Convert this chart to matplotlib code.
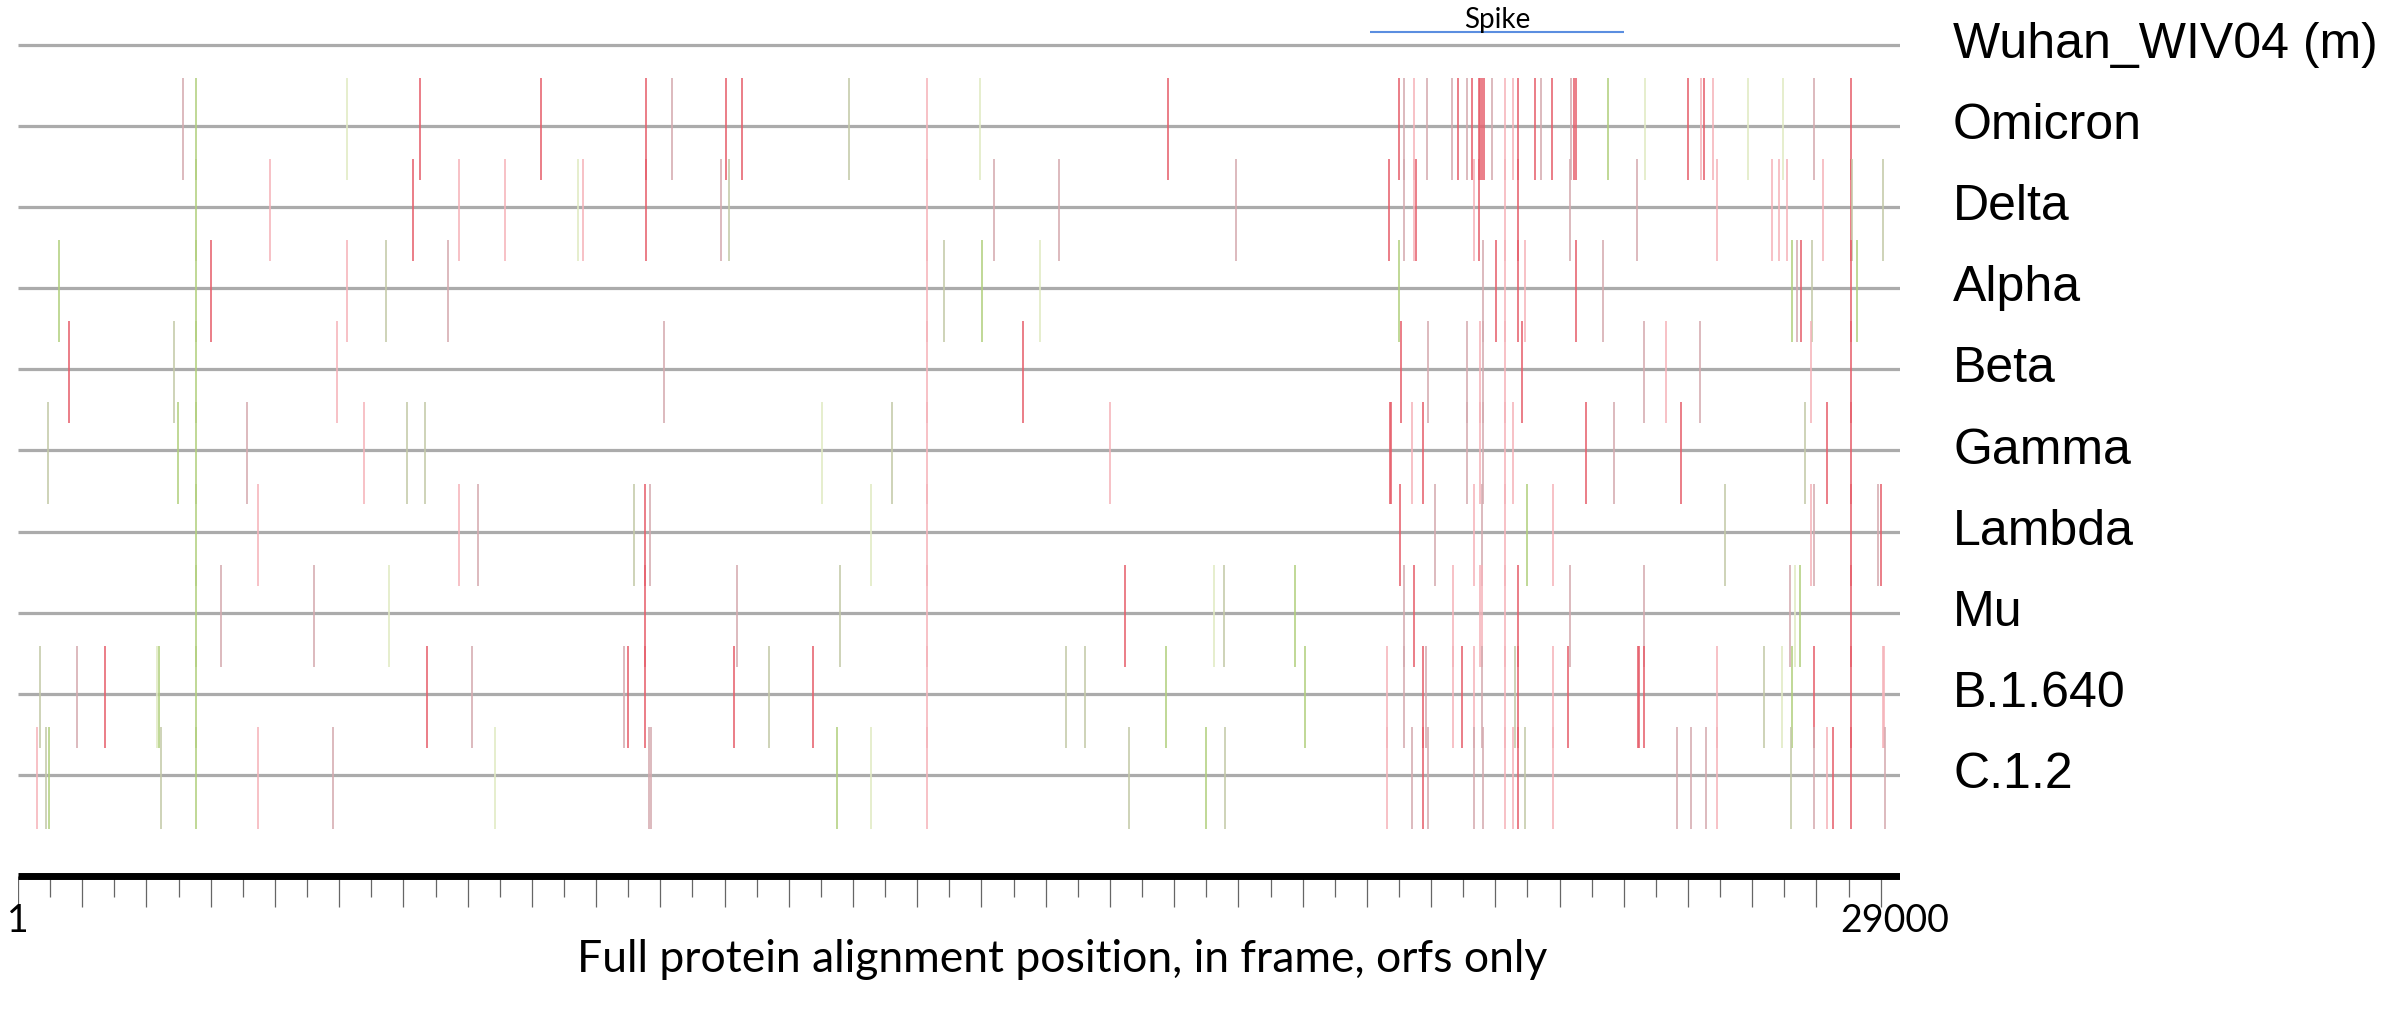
import matplotlib
matplotlib.use("Agg")
import matplotlib.pyplot as plt

# alignment length shown on the ruler and the spike region
ALIGN_LEN = 29300
spike_start, spike_end = 21050, 25000

variants = ["Wuhan_WIV04 (m)", "Omicron", "Delta", "Alpha", "Beta",
            "Gamma", "Lambda", "Mu", "B.1.640", "C.1.2"]

# (alignment position, kind) - R red, P pink, M mauve, G green, O olive, L pale green
wuhan = []
omicron = [(2567, "M"), (2773, "G"), (5123, "L"), (6252, "R"), (8137, "R"), (9770, "R"),
           (10181, "M"), (11026, "R"), (11278, "R"), (12937, "O"), (14150, "P"), (14977, "L"),
           (17907, "R"), (21494, "R"), (21578, "M"), (21726, "P"), (21933, "M"), (22327, "M"),
           (22423, "R"), (22559, "M"), (22637, "R"), (22740, "R"), (22766, "R"), (22792, "R"),
           (22817, "R"), (22946, "M"), (23153, "P"), (23276, "P"), (23359, "R"), (23611, "R"),
           (23708, "M"), (23889, "R"), (24179, "M"), (24224, "R"), (24263, "R"), (24760, "G"),
           (25335, "L"), (25993, "R"), (26200, "P"), (26251, "R"), (26387, "P"), (26929, "L"),
           (27471, "L"), (27962, "M"), (28530, "R")]
delta = [(2773, "G"), (3922, "P"), (6143, "R"), (6859, "P"), (7589, "P"), (8725, "L"),
         (8796, "P"), (9770, "R"), (10942, "M"), (11065, "O"), (14150, "P"), (15196, "M"),
         (16203, "M"), (18960, "M"), (21352, "R"), (21578, "M"), (21726, "P"), (21765, "R"),
         (22662, "P"), (22740, "R"), (23153, "P"), (23359, "R"), (24160, "M"), (25212, "M"),
         (26445, "P"), (27303, "P"), (27413, "P"), (27542, "P"), (28104, "P"), (28530, "R"),
         (28550, "O"), (29034, "O")]
alpha = [(643, "G"), (2773, "G"), (2999, "R"), (5123, "P"), (5729, "O"), (6691, "M"),
         (14150, "P"), (14415, "O"), (15015, "G"), (15912, "L"), (21494, "G"), (22811, "M"),
         (23017, "R"), (23153, "P"), (23359, "R"), (23469, "P"), (24263, "R"), (24676, "M"),
         (27626, "G"), (27704, "M"), (27762, "R"), (27923, "O"), (28530, "R"), (28627, "G")]
beta = [(798, "R"), (2424, "O"), (2773, "G"), (4961, "P"), (10058, "M"), (14150, "P"),
        (15654, "R"), (21539, "R"), (21952, "M"), (22559, "M"), (22766, "P"), (22811, "M"),
        (23153, "P"), (23418, "R"), (25315, "M"), (25657, "P"), (26187, "M"), (27917, "P"),
        (28530, "R")]
gamma = [(462, "O"), (2489, "G"), (2773, "G"), (3567, "M"), (5387, "P"), (6052, "O"),
         (6343, "O"), (12517, "L"), (13602, "O"), (14150, "P"), (16997, "P"), (21358, "R"),
         (21370, "R"), (21707, "P"), (21868, "R"), (22559, "M"), (22766, "P"), (22811, "M"),
         (23153, "P"), (23276, "P"), (24405, "R"), (24844, "M"), (25896, "R"), (27820, "O"),
         (28156, "R"), (28530, "R")]
lambda_ = [(2773, "G"), (3741, "P"), (6859, "P"), (7162, "M"), (9593, "O"), (9768, "R"),
           (9839, "M"), (13279, "L"), (14150, "P"), (21520, "R"), (22062, "M"), (22662, "P"),
           (22785, "M"), (23153, "P"), (23489, "G"), (23902, "P"), (26574, "O"), (27917, "P"),
           (27962, "M"), (28530, "R"), (28956, "M"), (29007, "R")]
mu = [(2773, "G"), (3167, "M"), (4613, "M"), (5775, "L"), (9768, "R"), (11194, "M"),
      (12795, "O"), (14150, "P"), (17229, "R"), (18617, "L"), (18779, "O"), (19887, "G"),
      (21578, "M"), (21726, "R"), (22340, "P"), (22766, "P"), (22785, "P"), (23153, "P"),
      (23359, "R"), (24160, "M"), (25315, "M"), (27581, "M"), (27665, "L"), (27749, "G"),
      (28530, "R")]
b1640 = [(340, "O"), (920, "M"), (1353, "R"), (2160, "L"), (2192, "G"), (2773, "G"),
         (6362, "R"), (7066, "M"), (9441, "M"), (9493, "R"), (9768, "R"), (11149, "R"),
         (11691, "O"), (12382, "R"), (14150, "P"), (16313, "O"), (16610, "O"), (17868, "G"),
         (20029, "G"), (21320, "P"), (21578, "M"), (21868, "R"), (21920, "M"), (22340, "P"),
         (22488, "R"), (22662, "P"), (22785, "M"), (23153, "P"), (23308, "O"), (23359, "R"),
         (23902, "P"), (24128, "R"), (25225, "R"), (25235, "R"), (25315, "R"), (26445, "P"),
         (27175, "O"), (27465, "L"), (27626, "G"), (27962, "R"), (28530, "R"), (29035, "P"),
         (29045, "P")]
c12 = [(301, "P"), (443, "O"), (481, "G"), (2224, "O"), (2773, "G"), (3741, "P"),
       (4910, "M"), (7433, "L"), (9826, "M"), (9852, "M"), (12756, "G"), (13279, "L"),
       (14150, "P"), (17294, "O"), (18488, "G"), (18792, "O"), (21320, "P"), (21700, "M"),
       (21868, "R"), (21952, "M"), (22662, "M"), (22811, "M"), (23153, "P"), (23276, "P"),
       (23359, "R"), (23469, "O"), (23902, "P"), (25832, "M"), (26039, "M"), (26284, "M"),
       (26445, "P"), (27600, "O"), (27962, "M"), (28156, "P"), (28252, "R"), (28530, "R"),
       (29066, "M")]

rows = [wuhan, omicron, delta, alpha, beta, gamma, lambda_, mu, b1640, c12]

kind_colors = {"R": "#e6606d", "P": "#f5b3ba", "M": "#d5aaaf",
               "G": "#b2d07e", "O": "#c4caa8", "L": "#e0eac2"}

W, H = 2392, 1021
left_px, right_px = 18, 1900
row0_px, row_step = 45, 81.1


def py(px):
    # figure pixel row -> row units used on the y axis
    return (px - row0_px) / row_step


fig = plt.figure(figsize=(W / 100, H / 100), dpi=100)
ax = fig.add_axes([left_px / W, 0, (right_px - left_px) / W, 1])
ax.set_xlim(0, ALIGN_LEN)
ax.set_ylim(py(H), py(0))
ax.axis("off")

# one grey line per sequence
ax.hlines(range(len(rows)), 0, ALIGN_LEN, color="#ababab", lw=2.3, zorder=1)

# mutation ticks
up, down = 48 / row_step, 54 / row_step
for i, marks in enumerate(rows):
    for kind, col in kind_colors.items():
        xs = [p for p, k in marks if k == kind]
        if xs:
            ax.vlines(xs, i - up, i + down, color=col, lw=1.15, zorder=2)

# spike annotation
ax.hlines(py(32), spike_start, spike_end, color="#5b8ee0", lw=1.5)
ax.text((spike_start + spike_end) / 2, py(28), "Spike", ha="center", va="baseline",
        fontsize=20, family="Lato")

# variant names
for i, name in enumerate(variants):
    ax.text(ALIGN_LEN + (1953 - right_px) * ALIGN_LEN / (right_px - left_px), i, name,
            ha="left", va="center", fontsize=36, family="Liberation Sans")

# ruler
ax.hlines(py(876), 0, ALIGN_LEN, color="black", lw=5, zorder=3)
ax.vlines(range(0, 29001, 1000), py(876), py(907), color="#666666", lw=0.9)
ax.vlines(range(500, 29001, 1000), py(876), py(897), color="#666666", lw=0.9)
ax.text(0, py(921), "1", ha="center", va="center", fontsize=27, family="Lato")
ax.text(ALIGN_LEN - 80, py(921), "29000", ha="center", va="center", fontsize=27,
        family="Lato")

fig.text(1062 / W, 1 - 972 / H, "Full protein alignment position, in frame, orfs only",
         ha="center", va="baseline", fontsize=32, family="Lato")

fig.savefig("out.png", dpi=100)
